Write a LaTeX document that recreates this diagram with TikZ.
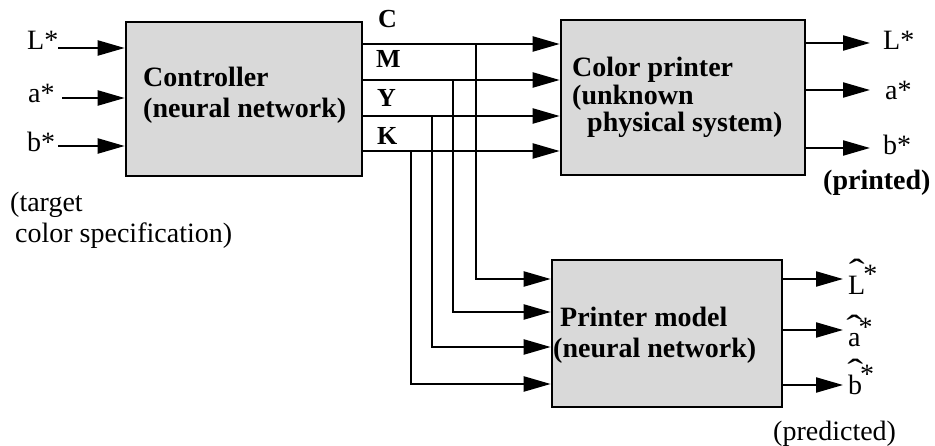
\documentclass[tikz,border=0pt]{standalone}
\usepackage{fontspec}
\usepackage{graphicx}
\setmainfont{Liberation Serif}
\usetikzlibrary{arrows.meta}
\newcommand\myhatlbl[3]{{\ooalign{#1\cr\hidewidth\raisebox{#2}{\scalebox{1.7}[1.2]{\char"02C6}}\hidewidth\cr}}\kern-2pt\raisebox{#3}{*}}
\tikzset{
  boxs/.style={draw=black, line width=2.6pt, fill=black!15, inner sep=0pt},
  txt/.style={anchor=base west, inner sep=0pt, font=\fontsize{28}{31}\selectfont},
  btxt/.style={anchor=base west, inner sep=0pt, font=\fontsize{28}{31}\selectfont\bfseries},
  ltxt/.style={anchor=base west, inner sep=0pt, font=\fontsize{26}{28}\selectfont\bfseries},
  arr/.style={line width=2.2pt, -{Triangle[length=27pt,width=15pt]}},
}
\begin{document}
\begin{tikzpicture}[x=1pt,y=-1pt]
\useasboundingbox (0,0) rectangle (935,446);
% boxes
\node[boxs, minimum width=236pt, minimum height=154pt] (ctrl) at (244,99) {};
\node[boxs, minimum width=244pt, minimum height=155pt] (cp) at (683,97.5) {};
\node[boxs, minimum width=230pt, minimum height=147pt] (pm) at (667,333.5) {};
% box texts
\node[btxt] (ct1) at (143,87) {Controller};
\node[btxt] (ct2) at (143,118) {(neural network)};
\node[btxt] (cpt1) at (572,77) {Color printer};
\node[btxt] (cpt2) at (572,105) {(unknown};
\node[btxt] (cpt3) at (587,132) {physical system)};
\node[btxt] (pmt1) at (560,327) {Printer model};
\node[btxt] (pmt2) at (553,358) {(neural network)};
% controller inputs
\node[txt] (iL) at (27,50) {L*};
\node[txt] (ia) at (28,103) {a*};
\node[txt] (ib) at (27,152) {b*};
\coordinate (iLs) at (58,48);
\coordinate (ias) at (62,98);
\coordinate (ibs) at (58,146);
\draw[arr] (iLs) -- (iLs -| ctrl.west);
\draw[arr] (ias) -- (ias -| ctrl.west);
\draw[arr] (ibs) -- (ibs -| ctrl.west);
\node[txt] (tg1) at (10,212) {(target};
\node[txt] (tg2) at (15,243) {color specification)};
% CMYK
\node[ltxt] (lC) at (378,28) {C};
\node[ltxt] (lM) at (376,68) {M};
\node[ltxt] (lY) at (377,107) {Y};
\node[ltxt] (lK) at (377,145) {K};
\coordinate (oC) at (ctrl.east |- 0,44);
\coordinate (oM) at (ctrl.east |- 0,80);
\coordinate (oY) at (ctrl.east |- 0,116);
\coordinate (oK) at (ctrl.east |- 0,151);
\draw[arr] (oC) -- (oC -| cp.west);
\draw[arr] (oM) -- (oM -| cp.west);
\draw[arr] (oY) -- (oY -| cp.west);
\draw[arr] (oK) -- (oK -| cp.west);
% branches to printer model
\coordinate (bC) at (476,44);
\coordinate (bM) at (453,80);
\coordinate (bY) at (432,116);
\coordinate (bK) at (411,151);
\coordinate (pC) at (pm.west |- 0,279);
\coordinate (pM) at (pm.west |- 0,312);
\coordinate (pY) at (pm.west |- 0,347);
\coordinate (pK) at (pm.west |- 0,384);
\draw[arr] (bC) |- (pC);
\draw[arr] (bM) |- (pM);
\draw[arr] (bY) |- (pY);
\draw[arr] (bK) |- (pK);
% color printer outputs
\coordinate (cL) at (cp.east |- 0,43);
\coordinate (ca) at (cp.east |- 0,90);
\coordinate (cb) at (cp.east |- 0,148);
\node[txt] (oLt) at (883,50) {L*};
\node[txt] (oat) at (885,100) {a*};
\node[txt] (obt) at (883,155) {b*};
\coordinate (cLe) at (870,43);
\coordinate (cae) at (870,90);
\coordinate (cbe) at (870,148);
\draw[arr] (cL) -- (cLe);
\draw[arr] (ca) -- (cae);
\draw[arr] (cb) -- (cbe);
\node[btxt] (prt) at (823,190) {(printed)};
% printer model outputs
\coordinate (mL) at (pm.east |- 0,279);
\coordinate (ma) at (pm.east |- 0,330);
\coordinate (mb) at (pm.east |- 0,385);
\coordinate (mLe) at (843,279);
\coordinate (mae) at (843,330);
\coordinate (mbe) at (843,385);
\draw[arr] (mL) -- (mLe);
\draw[arr] (ma) -- (mae);
\draw[arr] (mb) -- (mbe);
\node[txt] (hL) at (848,295) {\myhatlbl{L}{12pt}{11pt}};
\node[txt] (ha) at (848,347) {\myhatlbl{a}{8pt}{10pt}};
\node[txt] (hb) at (848,395) {\myhatlbl{b}{12pt}{11pt}};
\node[txt] (pred) at (773,440) {(predicted)};
\end{tikzpicture}
\end{document}
